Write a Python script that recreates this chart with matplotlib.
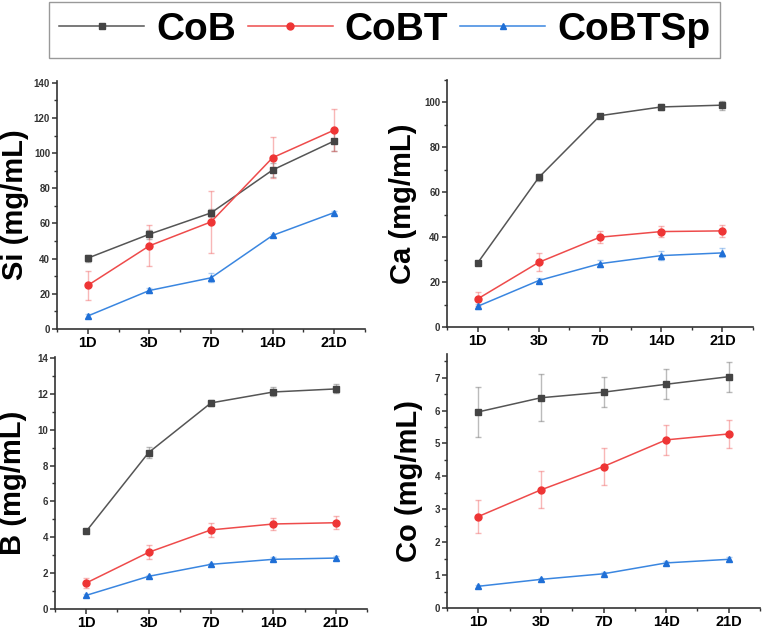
import matplotlib
matplotlib.use("Agg")
import matplotlib.pyplot as plt
from matplotlib.ticker import AutoMinorLocator, MultipleLocator

plt.rcParams["font.family"] = ["Liberation Sans", "DejaVu Sans"]
plt.rcParams["font.weight"] = "bold"

days = ["1D", "3D", "7D", "14D", "21D"]
series = ["CoB", "CoBT", "CoBTSp"]

si_mean = {"CoB": [40.3, 53.9, 66.0, 90.4, 106.9],
           "CoBT": [24.8, 47.3, 60.9, 97.4, 113.1],
           "CoBTSp": [7.4, 21.9, 29.1, 53.2, 66.2]}
si_err = {"CoB": [2.0, 2.5, 2.5, 4.0, 5.5],
          "CoBT": [8.4, 11.6, 17.7, 11.7, 12.0],
          "CoBTSp": [1.0, 1.5, 2.5, 1.0, 1.0]}

ca_mean = {"CoB": [28.5, 66.6, 94.1, 98.0, 98.8],
           "CoBT": [12.5, 28.8, 40.0, 42.5, 42.8],
           "CoBTSp": [9.2, 20.7, 28.2, 31.8, 33.0]}
ca_err = {"CoB": [1.0, 1.5, 0.5, 1.5, 2.0],
          "CoBT": [3.0, 4.0, 2.7, 2.5, 2.8],
          "CoBTSp": [1.0, 1.0, 1.5, 2.0, 2.0]}

b_mean = {"CoB": [4.33, 8.72, 11.49, 12.10, 12.27],
          "CoBT": [1.45, 3.16, 4.41, 4.74, 4.81],
          "CoBTSp": [0.76, 1.82, 2.49, 2.77, 2.84]}
b_err = {"CoB": [0.1, 0.3, 0.15, 0.25, 0.25],
         "CoBT": [0.3, 0.4, 0.4, 0.35, 0.35],
         "CoBTSp": [0.1, 0.1, 0.1, 0.12, 0.12]}

co_mean = {"CoB": [5.96, 6.39, 6.56, 6.80, 7.03],
           "CoBT": [2.78, 3.59, 4.30, 5.11, 5.29],
           "CoBTSp": [0.66, 0.87, 1.04, 1.37, 1.48]}
co_err = {"CoB": [0.76, 0.72, 0.45, 0.45, 0.46],
          "CoBT": [0.51, 0.56, 0.56, 0.45, 0.42],
          "CoBTSp": [0.05, 0.05, 0.05, 0.06, 0.06]}

styles = {
    "CoB": dict(color="#555555", mfc="#444444", marker="s", ms=4.5),
    "CoBT": dict(color="#ee4b4b", mfc="#ee3535", marker="o", ms=5.0),
    "CoBTSp": dict(color="#3a86e0", mfc="#1f6fd6", marker="^", ms=5.0),
}

W, H = 765, 632
fig = plt.figure(figsize=(W / 100, H / 100), dpi=100)


def px_axes(left, top, right, bottom):
    return fig.add_axes([left / W, 1 - bottom / H, (right - left) / W, (bottom - top) / H])


panels = [
    # (pixel box, means, errors, ylim, major step, ylabel, label x)
    ((57, 81, 365, 329), si_mean, si_err, 141, 20, "Si (mg/mL)", -0.092),
    ((447, 80, 753, 327), ca_mean, ca_err, 110, 20, "Ca (mg/mL)", -0.098),
    ((55, 357, 367, 609), b_mean, b_err, 14.05, 2, "B (mg/mL)", -0.09),
    ((447, 354, 760, 608), co_mean, co_err, 7.72, 1, "Co (mg/mL)", -0.078),
]

x = list(range(len(days)))
handles = []
for box, means, errs, ytop, step, ylabel, lx in panels:
    ax = px_axes(*box)
    handles = []
    for s in series:
        st = styles[s]
        ax.errorbar(x, means[s], yerr=errs[s], fmt="none", ecolor=st["color"],
                    alpha=0.4, elinewidth=1.0, capsize=2.5, capthick=1.0, zorder=2)
        (ln,) = ax.plot(x, means[s], color=st["color"], lw=1.1, marker=st["marker"],
                        ms=st["ms"], mfc=st["mfc"], mec=st["mfc"], label=s, zorder=3)
        handles.append(ln)
    ax.set_xlim(-0.5, 4.5)
    ax.set_ylim(0, ytop)
    ax.set_xticks(x)
    ax.set_xticklabels(days, fontsize=10.5, fontweight="bold")
    ax.yaxis.set_major_locator(MultipleLocator(step))
    ax.yaxis.set_minor_locator(AutoMinorLocator(2))
    ax.xaxis.set_minor_locator(MultipleLocator(0.5))
    for sp in ("top", "right"):
        ax.spines[sp].set_visible(False)
    for sp in ("left", "bottom"):
        ax.spines[sp].set_color("#333333")
        ax.spines[sp].set_linewidth(1.2)
    ax.tick_params(which="major", direction="out", length=3.5, width=1.1, color="#333333", pad=1.5)
    ax.tick_params(which="minor", direction="out", length=2, width=1.0, color="#333333")
    ax.tick_params(axis="y", labelsize=7, labelcolor="#333333")
    for lab in ax.get_yticklabels():
        lab.set_fontweight("bold")
    ax.set_ylabel(ylabel, fontsize=21, fontweight="bold")
    ax.yaxis.set_label_coords(lx, 0.5)

fig.legend(handles, series, loc="center", bbox_to_anchor=(0.5026, 1 - 30 / H), ncol=3,
           prop=dict(family="Liberation Sans", weight="bold", size=28),
           handlelength=2.2, handletextpad=0.3, columnspacing=0.3, borderpad=0.25,
           fancybox=False, edgecolor="#999999", framealpha=1)

fig.savefig("out.png", dpi=100)
